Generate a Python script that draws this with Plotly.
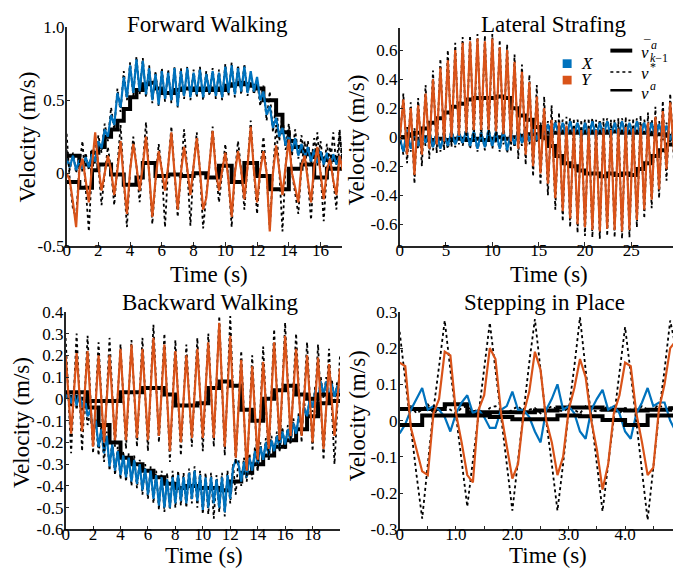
import plotly.graph_objects as go

BLUE = '#0072BD'
ORANGE = '#D95319'
AX = '#262626'
FONT = 'Liberation Serif, serif'

# ---------------- Panel 1: Forward Walking ----------------
P1_DT = 0.2
P1_X_ACT = [
    0.10, 0.04, 0.12, 0.02, 0.09, 0.03, 0.11, 0.04, 0.13, 0.08,
    0.22, 0.17, 0.30, 0.25, 0.40, 0.33, 0.55, 0.45, 0.66, 0.52,
    0.74, 0.55, 0.78, 0.56, 0.77, 0.54, 0.72, 0.50, 0.68, 0.47,
    0.70, 0.51, 0.69, 0.50, 0.72, 0.46, 0.70, 0.53, 0.72, 0.52,
    0.69, 0.54, 0.71, 0.52, 0.68, 0.55, 0.70, 0.53, 0.69, 0.52,
    0.73, 0.55, 0.74, 0.54, 0.72, 0.56, 0.73, 0.55, 0.70, 0.56,
    0.66, 0.50, 0.56, 0.40, 0.46, 0.31, 0.38, 0.25, 0.31, 0.19,
    0.26, 0.15, 0.24, 0.12, 0.20, 0.10, 0.18, 0.08, 0.16, 0.07,
    0.15, 0.06, 0.14, 0.05, 0.13, 0.06, 0.12, 0.08]
P1_X_DES = [
    0.16, 0.02, 0.14, 0.00, 0.12, 0.01, 0.14, 0.02, 0.16, 0.06,
    0.26, 0.14, 0.34, 0.22, 0.45, 0.30, 0.58, 0.42, 0.70, 0.50,
    0.76, 0.53, 0.80, 0.54, 0.79, 0.52, 0.74, 0.48, 0.70, 0.46,
    0.72, 0.49, 0.71, 0.48, 0.73, 0.45, 0.72, 0.51, 0.73, 0.50,
    0.71, 0.52, 0.73, 0.50, 0.70, 0.53, 0.72, 0.51, 0.71, 0.50,
    0.75, 0.53, 0.76, 0.52, 0.74, 0.54, 0.75, 0.53, 0.69, 0.54,
    0.64, 0.46, 0.60, 0.36, 0.56, 0.28, 0.48, 0.22, 0.40, 0.16,
    0.34, 0.12, 0.30, 0.10, 0.26, 0.08, 0.22, 0.06, 0.24, 0.05,
    0.22, 0.04, 0.20, 0.04, 0.28, 0.05, 0.30, 0.06]
P1_Y_ACT = [
    0.00, -0.05, -0.20, -0.37, 0.02, 0.10, -0.05, -0.20, 0.05, 0.28,
    0.05, -0.12, 0.00, 0.12, 0.02, -0.15, 0.02, 0.22, -0.05, -0.28,
    0.02, 0.20, 0.05, -0.12, 0.05, 0.25, 0.00, -0.30, -0.05, 0.15,
    0.02, -0.12, 0.05, 0.28, 0.00, -0.25, 0.00, 0.18, 0.03, -0.15,
    0.05, 0.24, 0.02, -0.25, -0.17, 0.05, 0.29, 0.02, -0.12, 0.02,
    0.14, -0.05, -0.30, 0.00, 0.15, 0.02, -0.18, 0.05, 0.32, 0.02,
    -0.20, 0.02, 0.15, 0.00, -0.40, 0.00, 0.19, 0.02, -0.15, 0.05,
    0.23, 0.00, -0.10, -0.20, 0.05, 0.12, -0.05, -0.20, 0.05, 0.18,
    0.00, -0.18, 0.02, 0.10, -0.05, -0.15, 0.12, 0.02]
P1_Y_DES = [
    0.27, -0.05, -0.25, -0.30, 0.05, 0.22, -0.10, -0.40, 0.05, 0.25,
    0.05, -0.22, 0.00, 0.18, 0.02, -0.22, 0.05, 0.33, -0.05, -0.37,
    0.02, 0.25, 0.05, -0.20, 0.05, 0.35, 0.00, -0.35, -0.05, 0.20,
    0.02, -0.37, 0.05, 0.32, 0.00, -0.30, 0.00, 0.30, 0.03, -0.36,
    0.05, 0.28, 0.02, -0.38, -0.15, 0.05, 0.32, 0.02, -0.20, 0.02,
    0.20, -0.05, -0.37, 0.00, 0.22, 0.02, -0.25, 0.05, 0.36, 0.02,
    -0.28, 0.02, 0.25, 0.00, -0.38, 0.00, 0.33, 0.02, -0.40, 0.05,
    0.30, 0.00, -0.15, -0.28, 0.05, 0.22, -0.05, -0.32, 0.05, 0.28,
    0.00, -0.33, 0.02, 0.18, -0.05, -0.25, 0.28, 0.02]
P1_STEP_DT = 0.4
P1_X_AVG = [
    0.12, 0.12, 0.06, 0.06, 0.14, 0.18, 0.25, 0.30, 0.36, 0.44,
    0.52, 0.57, 0.61, 0.62, 0.58, 0.55, 0.55, 0.57, 0.58, 0.58,
    0.57, 0.58, 0.57, 0.58, 0.57, 0.60, 0.61, 0.62, 0.61, 0.60,
    0.58, 0.50, 0.50, 0.40, 0.28, 0.22, 0.18, 0.15, 0.13, 0.11,
    0.10, 0.09, 0.10, 0.10, 0.10]
P1_Y_AVG = [
    -0.06, -0.06, -0.10, -0.10, 0.02, 0.06, 0.06, -0.01, -0.01, -0.08,
    -0.08, -0.03, 0.07, 0.07, -0.02, -0.02, -0.01, -0.01, -0.02, -0.02,
    0.00, 0.00, -0.03, -0.03, 0.05, 0.05, -0.06, -0.06, 0.07, 0.07,
    -0.02, -0.02, -0.11, -0.11, -0.11, 0.03, 0.03, 0.06, 0.06, -0.03,
    -0.03, 0.03, 0.03, 0.03, 0.03]

# ---------------- Panel 2: Lateral Strafing ----------------
P2_DT = 0.4
P2_X_ACT = [
    0.00, -0.10, 0.05, -0.08, 0.04, -0.06, 0.05, -0.04, 0.04, -0.07,
    0.03, -0.08, 0.02, -0.06, 0.04, -0.05, 0.03, -0.04, 0.05, -0.06,
    0.04, -0.08, 0.03, -0.07, 0.05, -0.06, 0.04, -0.08, 0.05, -0.09,
    0.03, -0.05, 0.05, -0.04, 0.06, -0.03, 0.07, -0.02, 0.08, 0.00,
    0.09, 0.00, 0.10, 0.01, 0.10, 0.00, 0.11, 0.01, 0.10, -0.01,
    0.10, 0.00, 0.11, 0.00, 0.10, 0.01, 0.11, 0.00, 0.10, 0.01,
    0.11, 0.00, 0.10, 0.00, 0.11, 0.01, 0.10, 0.00, 0.10, -0.01,
    0.09, 0.00, 0.08, -0.02, 0.06]
P2_X_DES = [
    0.02, -0.12, 0.07, -0.10, 0.06, -0.08, 0.07, -0.06, 0.06, -0.09,
    0.05, -0.10, 0.04, -0.08, 0.06, -0.07, 0.05, -0.06, 0.07, -0.08,
    0.06, -0.10, 0.05, -0.09, 0.07, -0.08, 0.06, -0.10, 0.07, -0.11,
    0.05, -0.07, 0.07, -0.06, 0.08, -0.05, 0.09, -0.04, 0.10, -0.02,
    0.11, -0.02, 0.12, -0.01, 0.12, -0.02, 0.13, -0.01, 0.12, -0.03,
    0.12, -0.02, 0.13, -0.02, 0.12, -0.01, 0.13, -0.02, 0.12, -0.01,
    0.13, -0.02, 0.12, -0.02, 0.13, -0.01, 0.12, -0.02, 0.12, -0.03,
    0.11, -0.02, 0.10, -0.04, 0.08]
P2_Y_ACT = [
    -0.02, 0.26, -0.12, 0.20, -0.26, 0.22, -0.12, 0.30, -0.08, 0.40,
    -0.05, 0.48, -0.03, 0.53, 0.00, 0.60, 0.01, 0.65, 0.03, 0.66,
    0.05, 0.68, 0.05, 0.66, 0.05, 0.68, 0.04, 0.62, 0.02, 0.60,
    -0.03, 0.52, -0.08, 0.45, -0.12, 0.38, -0.20, 0.28, -0.25, 0.20,
    -0.32, 0.12, -0.42, 0.10, -0.51, 0.08, -0.56, 0.06, -0.60, 0.05,
    -0.62, 0.06, -0.64, 0.05, -0.65, 0.06, -0.63, 0.05, -0.64, 0.06,
    -0.65, 0.07, -0.64, 0.06, -0.57, 0.08, -0.50, 0.10, -0.43, 0.14,
    -0.36, 0.18, -0.22, 0.24, -0.10]
P2_Y_DES = [
    -0.05, 0.30, -0.18, 0.24, -0.32, 0.27, -0.20, 0.36, -0.15, 0.46,
    -0.11, 0.54, -0.09, 0.60, -0.07, 0.65, -0.05, 0.69, -0.04, 0.70,
    -0.03, 0.71, -0.03, 0.70, -0.03, 0.71, -0.04, 0.67, -0.05, 0.64,
    -0.10, 0.57, -0.15, 0.50, -0.19, 0.43, -0.27, 0.36, -0.33, 0.28,
    -0.40, 0.22, -0.50, 0.17, -0.58, 0.14, -0.62, 0.13, -0.66, 0.12,
    -0.68, 0.13, -0.69, 0.12, -0.70, 0.13, -0.68, 0.12, -0.69, 0.13,
    -0.70, 0.14, -0.69, 0.13, -0.62, 0.15, -0.56, 0.17, -0.49, 0.21,
    -0.42, 0.25, -0.30, 0.30, -0.16]
P2_STEP_DT = 0.8
P2_X_AVG = [
    0.00, 0.01, -0.01, 0.00, -0.02, -0.01, -0.02, -0.01, -0.01, -0.02,
    -0.01, -0.02, -0.01, 0.00, -0.01, 0.00, 0.01, 0.02, 0.02, 0.03,
    0.03, 0.03, 0.04, 0.03, 0.04, 0.03, 0.04, 0.03, 0.04, 0.04,
    0.03, 0.04, 0.03, 0.03, 0.02, 0.02, 0.01, 0.01]
P2_Y_AVG = [
    0.00, 0.02, 0.03, 0.06, 0.10, 0.13, 0.17, 0.21, 0.23, 0.26,
    0.27, 0.27, 0.27, 0.28, 0.27, 0.20, 0.15, 0.12, 0.07, 0.00,
    -0.06, -0.13, -0.18, -0.20, -0.23, -0.25, -0.25, -0.27, -0.25, -0.26,
    -0.25, -0.26, -0.22, -0.18, -0.13, -0.09, -0.05, 0.00]

# ---------------- Panel 3: Backward Walking ----------------
P3_X_DT = 0.2
P3_X_ACT = [
    0.00, 0.03, -0.02, 0.03, -0.03, 0.03, -0.04, 0.01, -0.08, -0.05,
    -0.15, -0.10, -0.22, -0.14, -0.25, -0.17, -0.31, -0.21, -0.33, -0.24,
    -0.35, -0.26, -0.36, -0.27, -0.38, -0.28, -0.39, -0.30, -0.42, -0.32,
    -0.44, -0.33, -0.46, -0.35, -0.49, -0.36, -0.50, -0.37, -0.50, -0.36,
    -0.48, -0.35, -0.47, -0.36, -0.48, -0.34, -0.46, -0.33, -0.47, -0.35,
    -0.51, -0.36, -0.50, -0.36, -0.48, -0.37, -0.50, -0.36, -0.52, -0.35,
    -0.46, -0.32, -0.28, -0.30, -0.38, -0.29, -0.36, -0.27, -0.33, -0.24,
    -0.30, -0.22, -0.28, -0.20, -0.26, -0.19, -0.24, -0.17, -0.22, -0.15,
    -0.21, -0.14, -0.19, -0.11, -0.16, -0.08, -0.12, -0.04, -0.08, 0.00,
    -0.04, 0.04, 0.00, 0.08, 0.02, 0.08, 0.00, 0.07, 0.01, 0.06,
    0.03]
P3_X_DES = [
    0.02, 0.04, -0.04, 0.05, -0.05, 0.04, -0.06, 0.00, -0.12, -0.06,
    -0.20, -0.09, -0.26, -0.12, -0.29, -0.15, -0.33, -0.19, -0.35, -0.22,
    -0.37, -0.24, -0.38, -0.25, -0.40, -0.26, -0.41, -0.28, -0.44, -0.30,
    -0.46, -0.31, -0.48, -0.33, -0.51, -0.33, -0.52, -0.34, -0.51, -0.33,
    -0.50, -0.33, -0.49, -0.34, -0.50, -0.32, -0.48, -0.31, -0.50, -0.33,
    -0.53, -0.34, -0.53, -0.34, -0.55, -0.35, -0.52, -0.34, -0.54, -0.33,
    -0.48, -0.30, -0.44, -0.28, -0.40, -0.27, -0.38, -0.25, -0.37, -0.22,
    -0.33, -0.20, -0.30, -0.18, -0.28, -0.17, -0.26, -0.15, -0.24, -0.13,
    -0.23, -0.12, -0.21, -0.09, -0.18, -0.06, -0.14, -0.02, -0.10, 0.02,
    -0.06, 0.06, -0.02, 0.10, 0.00, 0.10, -0.02, 0.09, -0.01, 0.08,
    0.04]
P3_Y_DT = 0.4
P3_Y_ACT = [
    0.20, -0.16, 0.21, -0.15, 0.22, -0.22, 0.20, -0.20, 0.20, -0.19,
    0.23, -0.19, 0.25, -0.18, 0.23, -0.19, 0.28, -0.17, 0.25, -0.24,
    0.22, -0.20, 0.20, -0.18, 0.23, -0.18, 0.26, -0.18, 0.35, -0.22,
    0.29, -0.27, 0.18, -0.33, 0.15, -0.28, 0.17, -0.23, 0.26, -0.19,
    0.29, -0.17, 0.23, -0.17, 0.20, -0.20, 0.19, -0.23, 0.16, -0.17,
    0.14]
P3_Y_DES = [
    0.28, -0.25, 0.30, -0.24, 0.29, -0.25, 0.26, -0.24, 0.28, -0.22,
    0.25, -0.23, 0.27, -0.22, 0.28, -0.24, 0.34, -0.20, 0.30, -0.29,
    0.27, -0.26, 0.25, -0.22, 0.28, -0.24, 0.30, -0.22, 0.38, -0.26,
    0.38, -0.30, 0.22, -0.36, 0.20, -0.33, 0.24, -0.28, 0.32, -0.24,
    0.35, -0.20, 0.30, -0.20, 0.26, -0.24, 0.25, -0.28, 0.23, -0.30,
    0.20]
P3_STEP_DT = 0.8
P3_X_AVG = [
    0.01, 0.00, -0.04, -0.12, -0.20, -0.27, -0.30, -0.33, -0.36, -0.39,
    -0.41, -0.40, -0.41, -0.41, -0.42, -0.38, -0.34, -0.30, -0.26, -0.22,
    -0.19, -0.14, -0.08, -0.02, 0.02, 0.02]
P3_Y_AVG = [
    0.03, 0.03, -0.01, -0.01, -0.01, 0.03, 0.03, 0.05, 0.05, 0.02,
    -0.03, -0.03, -0.02, 0.05, 0.08, 0.06, -0.05, -0.10, 0.00, 0.04,
    0.06, 0.02, 0.00, 0.02, -0.01, -0.01]

# ---------------- Panel 4: Stepping in Place ----------------
P4_DT = 0.1
P4_X_ACT = [
    -0.035, -0.01, 0.03, 0.06, 0.09, 0.03, 0.04, 0.03, 0.01, -0.03,
    0.02, 0.05, 0.07, 0.02, 0.03, 0.01, -0.02, -0.02, 0.03, 0.04,
    0.08, 0.03, 0.03, 0.01, -0.03, -0.06, 0.03, 0.06, 0.10, 0.03,
    0.04, 0.02, -0.03, -0.05, 0.03, 0.06, 0.085, 0.03, 0.04, 0.02,
    -0.03, -0.05, 0.02, 0.05, 0.09, 0.04, 0.05, 0.05, 0.00, -0.03]
P4_X_DES = [
    0.035, 0.03, 0.04, 0.02, 0.03, 0.045, 0.02, 0.03, 0.04, 0.03,
    0.02, 0.035, 0.04, 0.025, 0.03, 0.02, 0.035, 0.04, 0.03, 0.02,
    0.03, 0.04, 0.025, 0.03, 0.035, 0.02, 0.03, 0.04, 0.03, 0.025,
    0.035, 0.03, 0.02, 0.04, 0.03, 0.025, 0.03, 0.04, 0.03, 0.02,
    0.035, 0.03, 0.025, 0.04, 0.03, 0.03, 0.045, 0.03, 0.035, 0.04]
P4_Y_ACT = [
    0.16, 0.15, -0.02, -0.08, -0.14, -0.15, 0.02, 0.06, 0.19, 0.18,
    0.02, -0.06, -0.15, -0.17, 0.03, 0.07, 0.20, 0.17, 0.02, -0.07,
    -0.16, -0.12, 0.02, 0.08, 0.19, 0.14, 0.00, -0.06, -0.15, -0.10,
    0.03, 0.09, 0.17, 0.12, 0.00, -0.08, -0.19, -0.12, 0.02, 0.07,
    0.16, 0.15, 0.02, -0.06, -0.15, -0.13, 0.03, 0.10, 0.20, 0.22]
P4_Y_DES = [
    0.245, 0.12, -0.02, -0.15, -0.27, -0.12, 0.03, 0.15, 0.276, 0.14,
    0.01, -0.12, -0.237, -0.11, 0.02, 0.14, 0.27, 0.14, 0.01, -0.12,
    -0.248, -0.11, 0.03, 0.16, 0.28, 0.14, 0.00, -0.12, -0.248, -0.12,
    0.03, 0.15, 0.285, 0.14, 0.01, -0.11, -0.25, -0.12, 0.01, 0.13,
    0.258, 0.13, 0.00, -0.13, -0.274, -0.13, 0.02, 0.14, 0.276, 0.20]
P4_STEP_DT = 0.4
P4_X_AVG = [0.032, 0.032, 0.045, 0.023, 0.023, 0.023, 0.028, 0.036, 0.036, 0.030,
            0.028, 0.030, 0.034, 0.034]
P4_Y_AVG = [-0.012, 0.014, 0.014, 0.014, 0.010, 0.004, 0.004, 0.014, 0.012, 0.002,
            -0.012, 0.014, 0.014, 0.014]

W, H = 673, 583


def tgrid(vals, dt):
    return [round(i * dt, 4) for i in range(len(vals))]


def px(x):
    return x / W


def py(y):
    return 1 - y / H


fig = go.Figure()

panels = [
    dict(ax='', xdom=(63, 340), ydom=(19, 245),
         xa=(P1_DT, P1_X_ACT, P1_X_DES), ya=(P1_DT, P1_Y_ACT, P1_Y_DES),
         st=(P1_STEP_DT, P1_X_AVG, P1_Y_AVG)),
    dict(ax='2', xdom=(398, 673), ydom=(20, 245),
         xa=(P2_DT, P2_X_ACT, P2_X_DES), ya=(P2_DT, P2_Y_ACT, P2_Y_DES),
         st=(P2_STEP_DT, P2_X_AVG, P2_Y_AVG)),
    dict(ax='3', xdom=(62, 338), ydom=(313, 538),
         xa=(P3_X_DT, P3_X_ACT, P3_X_DES), ya=(P3_Y_DT, P3_Y_ACT, P3_Y_DES),
         st=(P3_STEP_DT, P3_X_AVG, P3_Y_AVG)),
    dict(ax='4', xdom=(398, 673), ydom=(313, 538),
         xa=(P4_DT, P4_X_ACT, P4_X_DES), ya=(P4_DT, P4_Y_ACT, P4_Y_DES),
         st=(P4_STEP_DT, P4_X_AVG, P4_Y_AVG)),
]

for p in panels:
    xr = 'x' + p['ax']
    yr = 'y' + p['ax']
    sdt, sx, sy = p['st']
    xdt, xact, xdes = p['xa']
    ydt, yact, ydes = p['ya']
    common = dict(xaxis=xr, yaxis=yr, mode='lines', showlegend=False, hoverinfo='skip')
    fig.add_trace(go.Scatter(x=tgrid(sx, sdt), y=sx, line=dict(color='black', width=4, shape='hv'), **common))
    fig.add_trace(go.Scatter(x=tgrid(xdes, xdt), y=xdes, line=dict(color='black', width=1.8, dash='dot'), **common))
    fig.add_trace(go.Scatter(x=tgrid(xact, xdt), y=xact, line=dict(color=BLUE, width=2.2), **common))
    fig.add_trace(go.Scatter(x=tgrid(sy, sdt), y=sy, line=dict(color='black', width=4, shape='hv'), **common))
    fig.add_trace(go.Scatter(x=tgrid(ydes, ydt), y=ydes, line=dict(color='black', width=1.8, dash='dot'), **common))
    fig.add_trace(go.Scatter(x=tgrid(yact, ydt), y=yact, line=dict(color=ORANGE, width=2.2), **common))

axis_common = dict(showgrid=False, zeroline=False, showline=True, linecolor=AX, linewidth=1.5,
                   ticks='inside', ticklen=4, tickwidth=1, tickcolor=AX,
                   tickfont=dict(family=FONT, size=17, color='black'), mirror=False)

layout = dict(width=W, height=H, margin=dict(l=0, r=0, t=0, b=0),
              paper_bgcolor='white', plot_bgcolor='white', showlegend=False,
              font=dict(family=FONT))

specs = {
    '': dict(xr=[0, 17.35], xt=[0, 2, 4, 6, 8, 10, 12, 14, 16], xl=None,
             yr=[-0.5, 1.0], yt=[-0.5, 0, 0.5, 1.0], yl=['-0.5', '0', '0.5', '1.0']),
    '2': dict(xr=[0, 29.5], xt=[0, 5, 10, 15, 20, 25], xl=None,
              yr=[-0.75, 0.75], yt=[-0.6, -0.4, -0.2, 0, 0.2, 0.4, 0.6],
              yl=['-0.6', '-0.4', '-0.2', '0', '0.2', '0.4', '0.6']),
    '3': dict(xr=[0, 20], xt=[0, 2, 4, 6, 8, 10, 12, 14, 16, 18], xl=None,
              yr=[-0.6, 0.4], yt=[-0.6, -0.5, -0.4, -0.3, -0.2, -0.1, 0, 0.1, 0.2, 0.3, 0.4],
              yl=['-0.6', '-0.5', '-0.4', '-0.3', '-0.2', '-0.1', '0', '0.1', '0.2', '0.3', '0.4']),
    '4': dict(xr=[0, 4.85], xt=[0, 0.5, 1, 1.5, 2, 2.5, 3, 3.5, 4, 4.5],
              xl=['0', ' ', '1.0', ' ', '2.0', ' ', '3.0', ' ', '4.0', ' '],
              yr=[-0.3, 0.3], yt=[-0.3, -0.2, -0.1, 0, 0.1, 0.2, 0.3],
              yl=['-0.3', '-0.2', '-0.1', '0', '0.1', '0.2', '0.3']),
}

for p in panels:
    a = p['ax']
    s = specs[a]
    x0, x1 = p['xdom']
    y0, y1 = p['ydom']
    xa = dict(axis_common, domain=[px(x0), px(x1)], range=s['xr'], anchor='y' + a,
              tickmode='array', tickvals=s['xt'], ticklabelstandoff=-12)
    if s['xl'] is not None:
        xa['ticktext'] = s['xl']
    ya = dict(axis_common, domain=[py(y1), py(y0)], range=s['yr'], anchor='x' + a,
              tickmode='array', tickvals=s['yt'], ticktext=s['yl'], ticklabelstandoff=-3)
    layout['xaxis' + a] = xa
    layout['yaxis' + a] = ya

fig.update_layout(**layout)

ann = []
TFS = 23


def text(x, y, t, size=TFS, xa='center', ya='middle', angle=0):
    ann.append(dict(x=px(x), y=py(y), xref='paper', yref='paper', text=t, showarrow=False,
                    xanchor=xa, yanchor=ya, textangle=angle,
                    font=dict(family=FONT, size=size, color='black')))


text(205, 16, 'Forward Walking')
text(553, 16, 'Lateral Strafing')
text(207, 303, 'Backward Walking')
text(544, 303, 'Stepping in Place')
text(206, 274, 'Time (s)')
text(548, 274, 'Time (s)')
text(201, 565, 'Time (s)')
text(547, 565, 'Time (s)')
text(24, 132, 'Velocity (m/s)', angle=-90)
text(355, 135, 'Velocity (m/s)', angle=-90)
text(17, 427, 'Velocity (m/s)', angle=-90)
text(355, 420, 'Velocity (m/s)', angle=-90)

# legend
LFS = 17
text(578, 56, '<i>X</i>', size=LFS, xa='left')
text(578, 73, '<i>Y</i>', size=LFS, xa='left')
text(639, 45, '<i>v</i>', size=LFS, xa='left')
text(641, 37, '\u00af', size=13, xa='left')
text(649, 37, '<i>a</i>', size=12, xa='left')
text(648, 51, '<i>k</i>\u22121', size=12, xa='left')
text(639, 67, '<i>v</i>', size=LFS, xa='left')
text(648, 60, '*', size=12, xa='left')
text(639, 87, '<i>v</i>', size=LFS, xa='left')
text(648, 80, '<i>a</i>', size=12, xa='left')
fig.update_layout(annotations=ann)

shapes = [
    dict(type='rect', xref='paper', yref='paper', x0=px(562), x1=px(571), y0=py(61), y1=py(52),
         fillcolor=BLUE, line=dict(width=0)),
    dict(type='rect', xref='paper', yref='paper', x0=px(562), x1=px(571), y0=py(78), y1=py(69),
         fillcolor=ORANGE, line=dict(width=0)),
    dict(type='line', xref='paper', yref='paper', x0=px(610), x1=px(632), y0=py(43), y1=py(43),
         line=dict(color='black', width=4)),
    dict(type='line', xref='paper', yref='paper', x0=px(610), x1=px(632), y0=py(65), y1=py(65),
         line=dict(color='black', width=1.5, dash='dot')),
    dict(type='line', xref='paper', yref='paper', x0=px(610), x1=px(632), y0=py(84), y1=py(84),
         line=dict(color='black', width=2.5)),
]
fig.update_layout(shapes=shapes)

fig.write_html('out.html')
